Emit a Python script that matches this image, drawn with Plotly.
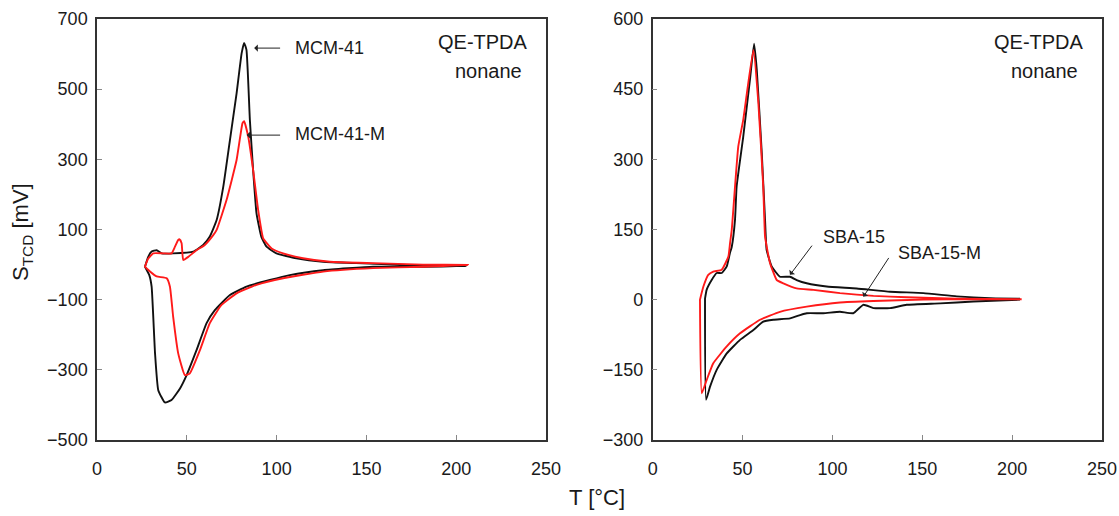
import plotly.graph_objects as go

# ---------------- Left panel: MCM-41 / MCM-41-M ----------------
mcm_up_T = [26.7, 28.5, 30.4, 33.2, 36.0, 42.4, 53.6, 59.1, 62.8, 66.6, 70.3, 74.0, 77.7, 80.5, 81.9, 83.2,
            85.1, 86.9, 88.8, 91.5, 94.4, 99.9, 111.0, 125.9, 144.4, 172.3, 205.6]
mcm_up_S = [-6, 22, 37, 41, 32, 32, 37, 56, 80, 127, 222, 355, 488, 602, 632, 612,
            412, 270, 146, 79, 51, 32, 18, 8, 4, -1, -4]
mcm_lo_T = [26.7, 29.1, 30.4, 32.3, 34.1, 37.8, 41.5, 46.2, 49.9, 55.4, 61.0, 65.6, 74.0, 83.2, 96.2,
            107.3, 125.9, 153.7, 181.5, 205.6]
mcm_lo_S = [-6, -30, -63, -253, -358, -393, -386, -353, -315, -244, -167, -130, -87, -63, -44,
            -30, -16, -6, -6, -4]

mcmm_up_T = [26.7, 28.5, 31.3, 36.8, 41.5, 43.4, 45.2, 46.0, 47.1, 48.0, 50.8, 55.4, 60.0, 64.7, 66.6, 72.1,
             77.7, 81.0, 81.9, 84.2, 86.9, 89.7, 92.5, 94.4, 97.2, 103.6, 114.7, 129.6, 153.7, 181.5, 206.5]
mcmm_up_S = [-6, 17, 32, 32, 32, 51, 70, 72, 61, 13, 22, 41, 56, 84, 99, 184,
             298, 403, 409, 364, 270, 156, 75, 62, 46, 32, 18, 8, 4, 0, -1]
mcmm_lo_T = [26.7, 29.5, 33.2, 38.8, 40.6, 42.4, 45.2, 48.9, 51.7, 57.3, 62.8, 69.3, 77.7, 88.8, 103.6,
             125.9, 153.7, 181.5, 206.5]
mcmm_lo_S = [-6, -20, -34, -39, -63, -149, -253, -315, -310, -244, -167, -115, -82, -58, -39,
             -20, -10, -6, -1]

# ---------------- Right panel: SBA-15 / SBA-15-M ----------------
sba_up_T = [29.1, 30.0, 32.8, 35.6, 38.4, 41.2, 43.0, 44.0, 45.8, 46.7, 50.4, 54.1, 56.4, 57.9, 60.7, 62.5,
            63.4, 66.2, 70.8, 76.4, 80.1, 85.7, 96.8, 113.5, 132.1, 150.6, 169.2, 187.7, 204.4]
sba_up_S = [2, 21, 42, 57, 57, 71, 100, 113, 171, 242, 349, 470, 547, 492, 313, 171,
            106, 71, 49, 49, 42, 35, 28, 24, 17, 14, 7, 3, 2]
sba_lo_T = [29.1, 29.7, 31.9, 35.6, 41.2, 48.6, 56.0, 61.5, 67.1, 76.4, 82.0, 85.7, 94.9, 104.2, 111.6,
            117.2, 122.8, 132.1, 141.3, 159.9, 178.4, 204.4]
sba_lo_S = [2, -214, -186, -150, -115, -86, -65, -47, -43, -40, -33, -29, -29, -26, -29,
            -11, -18, -18, -11, -8, -4, 0]

sbam_up_T = [26.3, 28.2, 30.9, 33.7, 38.4, 42.1, 43.0, 44.0, 47.6, 50.4, 56.0, 58.8, 61.5, 62.5, 63.4, 65.3,
             69.0, 72.7, 80.1, 89.4, 104.2, 122.8, 141.3, 169.2, 205.3]
sbam_up_S = [0, 28, 53, 60, 64, 92, 120, 150, 327, 385, 534, 420, 242, 135, 114, 78,
             42, 35, 24, 21, 14, 8, 5, 2, 1]
sbam_lo_T = [26.3, 27.3, 30.0, 33.7, 41.2, 48.6, 59.7, 70.8, 85.7, 104.2, 122.8, 150.6, 178.4, 205.3]
sbam_lo_S = [0, -200, -172, -136, -100, -72, -43, -26, -15, -6, -3, 0, 1, 1]

x_ticks = [0, 50, 100, 150, 200, 250]
y_ticks_left = [-500, -300, -100, 100, 300, 500, 700]
y_ticks_right = [-300, -150, 0, 150, 300, 450, 600]

BLACK = "#111111"
RED = "#ff1a1a"


def loop(up_T, up_S, lo_T, lo_S):
    return list(up_T[::-1]) + list(lo_T), list(up_S[::-1]) + list(lo_S)


fig = go.Figure()
for (uT, uS, lT, lS, col, xa, ya) in [
    (mcm_up_T, mcm_up_S, mcm_lo_T, mcm_lo_S, BLACK, "x", "y"),
    (mcmm_up_T, mcmm_up_S, mcmm_lo_T, mcmm_lo_S, RED, "x", "y"),
    (sba_up_T, sba_up_S, sba_lo_T, sba_lo_S, BLACK, "x2", "y2"),
    (sbam_up_T, sbam_up_S, sbam_lo_T, sbam_lo_S, RED, "x2", "y2"),
]:
    xs, ys = loop(uT, uS, lT, lS)
    fig.add_trace(go.Scatter(x=xs, y=ys, mode="lines", line=dict(color=col, width=1.9, shape="spline", smoothing=0.4),
                             xaxis=xa, yaxis=ya, showlegend=False))

FONT = "Liberation Sans, Arial, sans-serif"
TXT = "#1a1a1a"
axis_common = dict(showline=True, linecolor="#333333", linewidth=1.5, mirror=True,
                   ticks="inside", ticklen=5, tickcolor="#888888", tickwidth=1,
                   showgrid=False, zeroline=False,
                   tickfont=dict(family=FONT, size=18, color=TXT),
                   automargin=False)

fig.update_layout(
    width=1119, height=516,
    margin=dict(l=0, r=0, t=0, b=0),
    paper_bgcolor="white", plot_bgcolor="white",
    xaxis=dict(domain=[0.0867, 0.488], range=[0, 250], tickvals=x_ticks, anchor="y",
               ticklabelstandoff=12, **axis_common),
    yaxis=dict(domain=[0.1473, 0.9632], range=[-500, 700], tickvals=y_ticks_left, anchor="x",
               ticklabelstandoff=4, **axis_common),
    xaxis2=dict(domain=[0.5833, 0.9848], range=[0, 250], tickvals=x_ticks, anchor="y2",
                ticklabelstandoff=12, **axis_common),
    yaxis2=dict(domain=[0.1473, 0.9632], range=[-300, 600], tickvals=y_ticks_right, anchor="x2",
                ticklabelstandoff=4, **axis_common),
)

afont = dict(family=FONT, size=18, color=TXT)
qfont = dict(family=FONT, size=20, color=TXT)
ann = []
arrow_style = dict(showarrow=True, arrowhead=1, arrowsize=1.2, arrowwidth=1, arrowcolor="#222222", text=" ")
# arrows (left)
ann.append(dict(x=87.5, y=617, ax=103.6, ay=617, xref="x", yref="y", axref="x", ayref="y", **arrow_style))
ann.append(dict(x=83.3, y=369, ax=103.6, ay=369, xref="x", yref="y", axref="x", ayref="y", **arrow_style))
ann.append(dict(x=109, y=617, xref="x", yref="y", text="MCM-41", showarrow=False, xanchor="left", font=afont))
ann.append(dict(x=109, y=372, xref="x", yref="y", text="MCM-41-M", showarrow=False, xanchor="left", font=afont))
# arrows (right)
ann.append(dict(x=76.4, y=53, ax=90.3, ay=124, xref="x2", yref="y2", axref="x2", ayref="y2", **arrow_style))
ann.append(dict(x=117.2, y=6, ax=133, ay=99, xref="x2", yref="y2", axref="x2", ayref="y2", **arrow_style))
ann.append(dict(x=93.5, y=135, xref="x2", yref="y2", text="SBA-15", showarrow=False, xanchor="left", font=afont))
ann.append(dict(x=135.5, y=99, xref="x2", yref="y2", text="SBA-15-M", showarrow=False, xanchor="left", font=afont))
# QE-TPDA labels
for xr in [530, 1086]:
    ann.append(dict(x=xr / 1119, y=1 - 42 / 516, xref="paper", yref="paper", text="QE-TPDA",
                    showarrow=False, xanchor="right", yanchor="middle", font=qfont))
    ann.append(dict(x=(xr - 6) / 1119, y=1 - 71 / 516, xref="paper", yref="paper", text="nonane",
                    showarrow=False, xanchor="right", yanchor="middle", font=qfont))
# axis titles
ann.append(dict(x=22 / 1119, y=1 - 232 / 516, xref="paper", yref="paper", text="S<sub>TCD</sub> [mV]",
                textangle=-90, showarrow=False, xanchor="center", yanchor="middle",
                font=dict(family=FONT, size=22, color=TXT)))
ann.append(dict(x=597 / 1119, y=1 - 497 / 516, xref="paper", yref="paper", text="T [°C]",
                showarrow=False, xanchor="center", yanchor="middle",
                font=dict(family=FONT, size=22, color=TXT)))
fig.update_layout(annotations=ann)

fig.write_html("out.html")
